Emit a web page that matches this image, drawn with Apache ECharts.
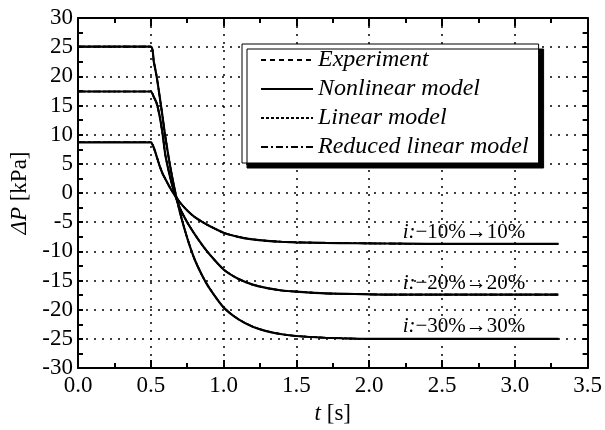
<!DOCTYPE html>
<html>
<head>
<meta charset="utf-8">
<script src="https://cdn.jsdelivr.net/npm/echarts@6/dist/echarts.min.js"></script>
<style>
  html, body { margin: 0; padding: 0; background: #fff; }
  #chart { width: 605px; height: 430px; }
</style>
</head>
<body>
<div id="chart"></div>
<script>
// time axis [s]
let time = [0, 0.5, 0.52, 0.54, 0.56, 0.58, 0.6, 0.63, 0.66, 0.7, 0.75, 0.8, 0.85, 0.9, 1.0, 1.1, 1.2, 1.3, 1.4, 1.5, 1.7, 1.9, 2.1, 2.4, 2.7, 3.0, 3.3];

// ΔP [kPa], one curve per step size
let p10 = [8.7, 8.7, 7.8, 6.3, 4.7, 3.4, 2.4, 1.0, -0.2, -1.6, -3.0, -4.1, -4.9, -5.6, -6.8, -7.5, -7.95, -8.2, -8.35, -8.45, -8.55, -8.6, -8.65, -8.7, -8.7, -8.7, -8.7];
let p20 = [17.4, 17.4, 16.5, 15.4, 13.3, 10.3, 6.5, 3.0, 0.2, -2.6, -5.0, -7.0, -8.8, -10.4, -13.1, -14.7, -15.7, -16.3, -16.7, -16.9, -17.2, -17.3, -17.4, -17.4, -17.4, -17.4, -17.4];
let p30 = [25.1, 25.1, 22.6, 20.0, 16.7, 13.2, 9.6, 5.0, 1.1, -3.3, -7.7, -11.3, -14.0, -16.2, -19.6, -21.6, -22.9, -23.7, -24.2, -24.5, -24.8, -24.95, -25, -25, -25, -25, -25];

let models = ["Experiment", "Nonlinear model", "Linear model", "Reduced linear model"];
let dashes = [[5, 4], "solid", [3, 2], [7, 3, 2, 3]];

let xTicks = ["0.0", "0.5", "1.0", "1.5", "2.0", "2.5", "3.0", "3.5"];

let notes = [
  { text: "{i|i:}−10%→10%", t: 2.23, v: -6.8 },
  { text: "{i|i:}−20%→20%", t: 2.23, v: -15.6 },
  { text: "{i|i:}−30%→30%", t: 2.23, v: -22.9 },
];

let serif = "Liberation Serif";

function pairs(arr) {
  return time.map((t, k) => [t, arr[k]]);
}

let series = [];
[p10, p20, p30].forEach((curve) => {
  models.forEach((m, j) => {
    series.push({
      name: m,
      type: "line",
      symbol: "none",
      animation: false,
      smooth: 0.2,
      z: j === 1 ? 3 : 2,
      itemStyle: { color: "#000" },
      lineStyle: { color: "#000", width: j === 1 ? 2.2 : 1.6, type: dashes[j] },
      data: pairs(curve),
    });
  });
});

let axisBase = {
  axisLine: { onZero: false, lineStyle: { color: "#000", width: 2 } },
  axisTick: { inside: true, length: 8, lineStyle: { color: "#000", width: 2 } },
  minorTick: { show: true, splitNumber: 2, length: 5, lineStyle: { color: "#000", width: 2 } },
};

let chart = echarts.init(document.getElementById("chart"));
let option = {
  backgroundColor: "#fff",
  animation: false,
  grid: { left: 78, right: 16, top: 18, bottom: 58 },
  legend: {
    data: models,
    orient: "vertical",
    left: 242,
    top: 44,
    itemWidth: 52,
    itemHeight: 14,
    itemGap: 5,
    padding: [4, 10, 4, 18],
    backgroundColor: "#fff",
    borderColor: "#000",
    borderWidth: 1,
    shadowColor: "#000",
    shadowBlur: 0,
    shadowOffsetX: 5,
    shadowOffsetY: 5,
    itemStyle: { opacity: 0 },
    textStyle: { fontFamily: serif, fontStyle: "italic", fontSize: 24, color: "#000" },
  },
  xAxis: [
    Object.assign({}, axisBase, {
      type: "value",
      min: 0,
      max: 3.5,
      interval: 0.5,
      position: "bottom",
      axisLabel: {
        fontFamily: serif,
        fontSize: 23,
        color: "#000",
        margin: 6,
        formatter: (v) => xTicks[Math.round(v / 0.5)],
      },
      splitLine: { show: true, lineStyle: { color: "#000", type: [2, 6], width: 1.5 } },
      name: "{i|t} [s]",
      nameLocation: "middle",
      nameGap: 32,
      nameTextStyle: {
        fontFamily: serif,
        fontSize: 23,
        color: "#000",
        rich: { i: { fontFamily: serif, fontStyle: "italic", fontSize: 23, color: "#000" } },
      },
    }),
    Object.assign({}, axisBase, {
      type: "value",
      min: 0,
      max: 3.5,
      interval: 0.5,
      position: "top",
      axisLabel: { show: false },
      splitLine: { show: false },
    }),
  ],
  yAxis: [
    Object.assign({}, axisBase, {
      type: "value",
      min: -30,
      max: 30,
      interval: 5,
      axisTick: { inside: true, length: 5, lineStyle: { color: "#000", width: 2 } },
      axisLabel: { fontFamily: serif, fontSize: 23, color: "#000", margin: 5 },
      splitLine: { show: true, lineStyle: { color: "#000", type: [2, 6], width: 1.5 } },
      name: "{i|ΔP} [kPa]",
      nameLocation: "middle",
      nameGap: 45,
      nameTextStyle: {
        fontFamily: serif,
        fontSize: 23,
        color: "#000",
        rich: { i: { fontFamily: serif, fontStyle: "italic", fontSize: 23, color: "#000" } },
      },
    }),
    Object.assign({}, axisBase, {
      type: "value",
      min: -30,
      max: 30,
      interval: 5,
      position: "right",
      axisTick: { inside: true, length: 5, lineStyle: { color: "#000", width: 2 } },
      axisLabel: { show: false },
      splitLine: { show: false },
    }),
  ],
  series: series,
};
chart.setOption(option);

// curve labels, placed in data space
chart.setOption({
  graphic: notes.map((n) => {
    let pt = chart.convertToPixel({ gridIndex: 0 }, [n.t, n.v]);
    return {
      type: "text",
      left: pt[0],
      top: pt[1] - 11,
      z: 10,
      style: {
        text: n.text,
        font: "21px " + serif,
        fill: "#000",
        rich: { i: { fontFamily: serif, fontStyle: "italic", fontSize: 21, fill: "#000" } },
      },
    };
  }),
});
</script>
</body>
</html>
